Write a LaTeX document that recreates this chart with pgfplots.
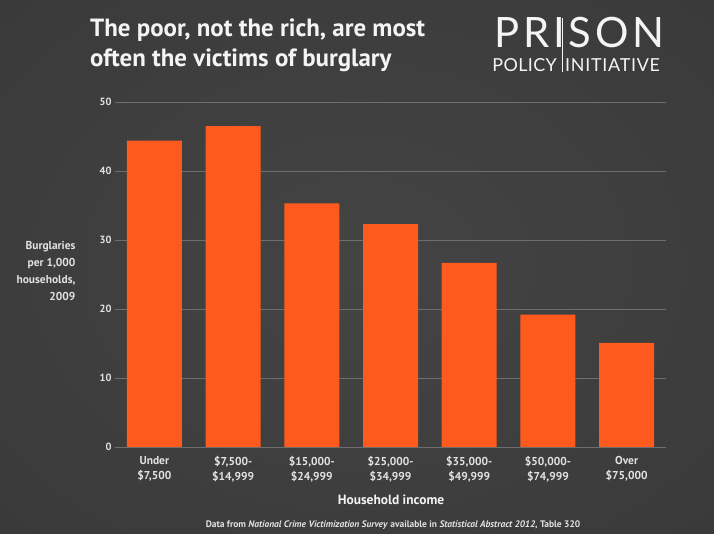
\documentclass[border=0pt]{standalone}
\usepackage{pgfplots}
\pgfplotsset{compat=1.18}
\usepackage{fontspec}
\setmainfont{PT Sans}
\newfontfamily\logofont{Lato}
\definecolor{bgc}{HTML}{444444}
\definecolor{bgm}{HTML}{3A3A3A}
\definecolor{bgdark}{HTML}{2A2A2A}
\definecolor{barc}{HTML}{FF5A1E}
\definecolor{gridc}{HTML}{6E6E6E}
\definecolor{txt}{HTML}{F4F4F4}
\definecolor{lbl}{HTML}{E2E2E2}
\pgfdeclareradialshading{bgshade}{\pgfpoint{0bp}{0bp}}{color(0bp)=(bgc); color(35bp)=(bgm); color(72bp)=(bgdark)}
\begin{document}
\begin{tikzpicture}[x=1bp,y=1bp]
\useasboundingbox (0,0) rectangle (714,534);
\shade[shading=bgshade] (0,0) rectangle (714,534);
% title
\node[anchor=base west, text=txt, inner sep=0pt, font=\fontsize{25}{30}\selectfont\bfseries] at (90,497.3) {The poor, not the rich, are most};
\node[anchor=base west, text=txt, inner sep=0pt, font=\fontsize{25}{30}\selectfont\bfseries] at (90,467.3) {often the victims of burglary};
% logo
\draw[txt, line width=0.8bp] (562,516) -- (562,462);
\node[anchor=base west, text=txt, inner sep=0pt, font=\logofont\fontsize{42}{42}\selectfont\addfontfeature{LetterSpace=9}] at (494,486) {PRISON};
\node[anchor=base east, text=txt, inner sep=0pt, font=\logofont\fontsize{18}{18}\selectfont\addfontfeature{LetterSpace=2}] at (557,462) {POLICY};
\node[anchor=base west, text=txt, inner sep=0pt, font=\logofont\fontsize{18}{18}\selectfont\addfontfeature{LetterSpace=4}] at (565,462) {INITIATIVE};
\begin{axis}[
  at={(115bp,87bp)}, anchor=south west, scale only axis,
  width=551bp, height=345bp,
  ymin=0, ymax=50, xmin=-0.5, xmax=6.5,
  ybar, bar width=55bp,
  axis line style={draw=none},
  major tick style={draw=none},
  ymajorgrids, grid style={gridc, line width=0.9bp},
  ytick={0,10,20,30,40,50},
  xtick={0,1,2,3,4,5,6},
  xticklabels={{Under\\\$7,500},{\$7,500-\\\$14,999},{\$15,000-\\\$24,999},{\$25,000-\\\$34,999},{\$35,000-\\\$49,999},{\$50,000-\\\$74,999},{Over\\\$75,000}},
  x tick label style={align=center, text=lbl, font=\fontsize{11.5}{15}\selectfont\bfseries, yshift=-2bp},
  y tick label style={text=lbl, font=\fontsize{10.5}{12}\selectfont\bfseries},
  /pgf/number format/assume math mode=true,
]
\addplot[fill=barc, draw=none] coordinates {(0,44.4) (1,46.5) (2,35.3) (3,32.3) (4,26.7) (5,19.2) (6,15.1)};
\end{axis}
\node[anchor=east, align=right, text=lbl, font=\fontsize{11.5}{17}\selectfont\bfseries] at (79,263) {Burglaries\\per 1,000\\households,\\2009};
\node[text=txt, font=\fontsize{13.5}{15}\selectfont\bfseries] at (391,34) {Household income};
\node[text=lbl, font=\fontsize{9.5}{11}\selectfont\bfseries] at (393,9) {Data from \textit{National Crime Victimization Survey} available in \textit{Statistical Abstract 2012}, Table 320};
\end{tikzpicture}
\end{document}
